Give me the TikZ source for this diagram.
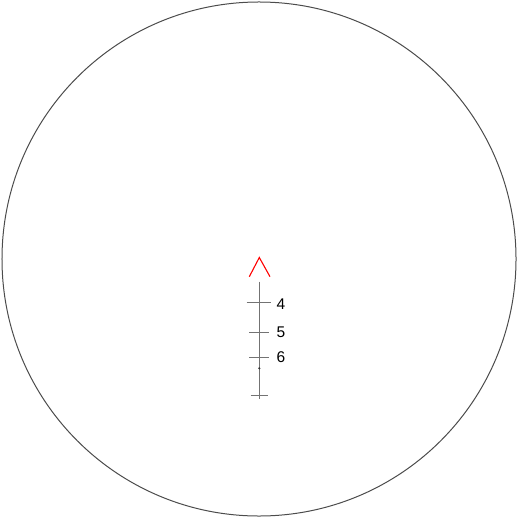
\documentclass[tikz,border=0pt]{standalone}
\usepackage{fontspec}
\setmainfont{Liberation Sans}
\begin{document}
\begin{tikzpicture}[x=1bp,y=-1bp,
  reticle/.style={draw=black!55,line width=1bp},
  lbl/.style={inner sep=0pt,font=\fontsize{15.5bp}{18bp}\selectfont,text=black}]
\useasboundingbox (0,0) rectangle (518,518);
\node[draw=black!70,line width=1bp,circle,minimum size=514bp,inner sep=0pt] (ring) at (259,259) {};
% chevron
\coordinate (cl) at (249.3,276.7);
\coordinate (ca) at (259.3,257.5);
\coordinate (cr) at (270,276.7);
\draw[red,line width=1.1bp] (cl) -- (ca) -- (cr);
% post
\coordinate (pt) at (259.3,281.7);
\coordinate (pb) at (259.3,399.3);
\draw[reticle] (pt) -- (pb);
% ticks
\coordinate (t4a) at (246.7,302.7); \coordinate (t4b) at (270.7,302.7);
\coordinate (t5a) at (249.3,332.3); \coordinate (t5b) at (269.3,332.3);
\coordinate (t6a) at (249.3,357.7); \coordinate (t6b) at (269.3,357.7);
\coordinate (tba) at (250.7,395.7); \coordinate (tbb) at (267.7,395.7);
\draw[reticle] (t4a) -- (t4b);
\draw[reticle] (t5a) -- (t5b);
\draw[reticle] (t6a) -- (t6b);
\draw[reticle] (tba) -- (tbb);
\fill[black!80] (259.3,368.3) circle (1.2bp);
\node[lbl] (l4) at (281,304.5) {4};
\node[lbl] (l5) at (281,332) {5};
\node[lbl] (l6) at (281,357) {6};
\end{tikzpicture}
\end{document}
